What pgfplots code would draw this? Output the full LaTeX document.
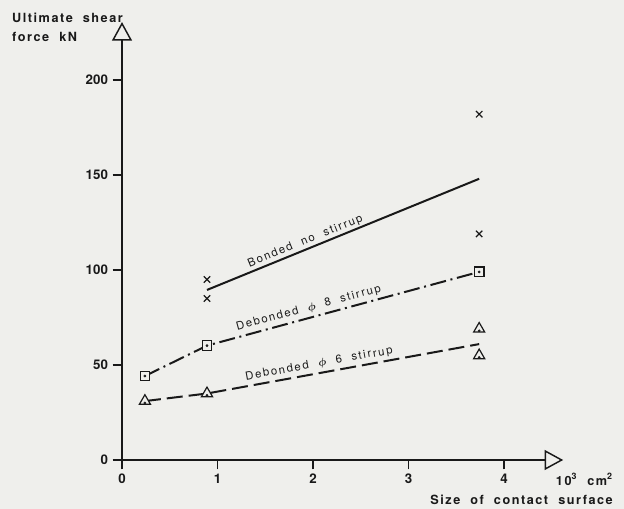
\documentclass[border=0pt]{standalone}
\usepackage{pgfplots}
\pgfplotsset{compat=1.18}
\usepackage{fontspec}
\setmainfont{TeX Gyre Heros}
\newfontfamily\lbl[LetterSpace=12, WordSpace=2]{TeX Gyre Heros}
\newfontfamily\lbll[LetterSpace=15, WordSpace=2]{TeX Gyre Heros}
\usetikzlibrary{arrows.meta}
\definecolor{paper}{RGB}{239,239,236}
\definecolor{ink}{RGB}{25,25,25}
\begin{document}
\begin{tikzpicture}
\fill[paper] (-91.5pt,-36.75pt) rectangle (376.5pt,345.0pt);
\begin{axis}[
  x=71.625pt, y=1.425pt,
  xmin=0, xmax=4.62, ymin=0, ymax=230.5,
  axis lines=left,
  axis line style={ink, line width=1.1pt, -{Triangle[open, length=14pt, width=15pt, line width=1.1pt]}},
  xtick={0,1,2,3,4}, ytick={0,50,100,150,200},
  tick align=outside, major tick length=7pt,
  tick style={ink, line width=1.1pt},
  ticklabel style={font=\bfseries\fontsize{10}{12}\selectfont, text=ink},
  /pgf/number format/assume math mode=true,
  clip=false,
]
\addplot[ink, line width=1.5pt] coordinates {(0.89,89.5) (3.74,148)};
\addplot[ink, line width=1.5pt, dash pattern=on 12pt off 3.5pt on 1.5pt off 3.5pt] coordinates {(0.24,44.2) (0.89,60.2) (3.74,99)};
\addplot[ink, line width=1.5pt, dash pattern=on 12pt off 4.5pt] coordinates {(0.24,31) (0.89,35) (3.74,61)};
\addplot[only marks, ink, mark=x, mark size=3.4pt, mark options={line width=0.9pt}] coordinates {(0.89,95) (0.89,85) (3.74,182) (3.74,119)};
\addplot[only marks, mark=square*, mark size=3.6pt, mark options={draw=ink, fill=paper, line width=0.9pt}] coordinates {(0.24,44.2) (0.89,60.2) (3.74,99)};
\addplot[only marks, mark=triangle*, mark size=4.8pt, mark options={draw=ink, fill=paper, line width=0.9pt}] coordinates {(0.24,31) (0.89,35) (3.74,69) (3.74,55)};
\addplot[only marks, mark=*, mark size=0.8pt, ink] coordinates {(0.24,44.2) (0.89,60.2) (3.74,99) (0.24,30) (0.89,34) (3.74,68) (3.74,54)};
\node[rotate=22.2, anchor=south, inner sep=1.5pt, font=\lbll\fontsize{8.5}{10}\selectfont, text=ink] at (axis cs:1.95,111.3) {Bonded no stirrup};
\node[rotate=15.2, anchor=south, inner sep=3pt, font=\lbll\fontsize{8.5}{10}\selectfont, text=ink] at (axis cs:1.98,75.0) {Debonded {\boldmath$\phi$} 8 stirrup};
\node[rotate=10.3, anchor=south, inner sep=2.5pt, font=\lbll\fontsize{8.5}{10}\selectfont, text=ink] at (axis cs:2.08,45.9) {Debonded {\boldmath$\phi$} 6 stirrup};
\node[anchor=base west, inner sep=0pt, font=\lbl\bfseries\fontsize{9.5}{11}\selectfont, text=ink] at (axis cs:-1.152,230.5) {Ultimate shear};
\node[anchor=base west, inner sep=0pt, font=\lbl\bfseries\fontsize{9.5}{11}\selectfont, text=ink] at (axis cs:-1.152,220) {force kN};
\node[anchor=base east, inner sep=0pt, font=\lbl\bfseries\fontsize{9.5}{11}\selectfont, text=ink] at (axis cs:5.141,-13.16) {10\textsuperscript{3} cm\textsuperscript{2}};
\node[anchor=base east, inner sep=0pt, font=\lbl\bfseries\fontsize{9.5}{11}\selectfont, text=ink] at (axis cs:5.141,-23.68) {Size of contact surface};
\end{axis}
\end{tikzpicture}
\end{document}
